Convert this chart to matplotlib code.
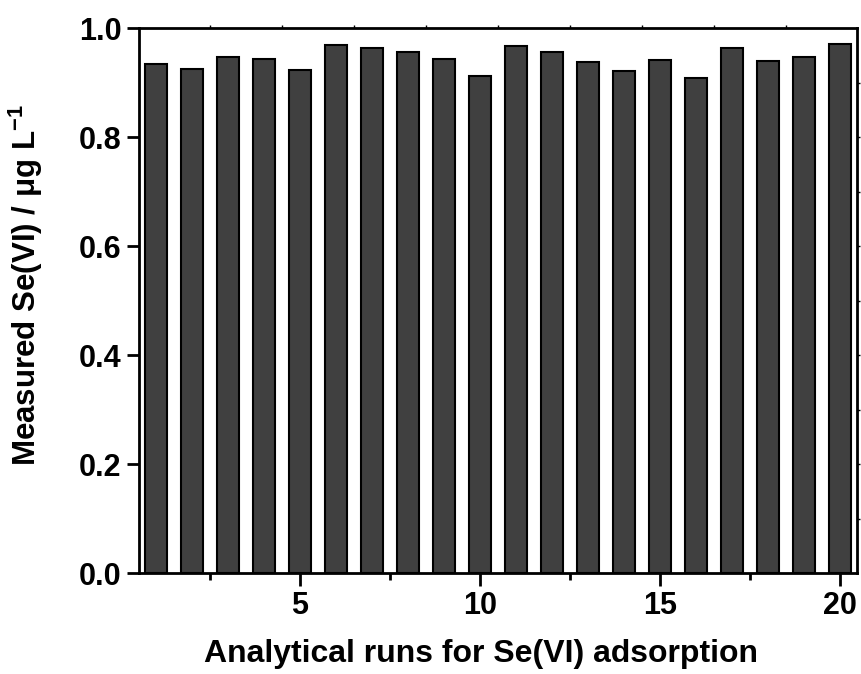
import numpy as np
import matplotlib
matplotlib.use("Agg")
import matplotlib.pyplot as plt
from matplotlib.ticker import MultipleLocator, FixedLocator

# measured Se(VI) for each analytical run
runs = np.arange(1, 21)
measured = [0.934, 0.925, 0.948, 0.944, 0.923, 0.969, 0.963, 0.956, 0.943, 0.913,
            0.967, 0.957, 0.939, 0.922, 0.941, 0.908, 0.964, 0.940, 0.947, 0.972]

plt.rcParams['font.family'] = ['Liberation Sans', 'DejaVu Sans']
plt.rcParams['font.weight'] = 'bold'
plt.rcParams['mathtext.fontset'] = 'custom'
plt.rcParams['mathtext.rm'] = 'Liberation Sans:bold'
plt.rcParams['mathtext.bf'] = 'Liberation Sans:bold'
plt.rcParams['mathtext.default'] = 'bf'

fig = plt.figure(figsize=(8.62, 6.74), dpi=100)
ax = fig.add_axes([0.1613, 0.1494, 0.8329, 0.8086])

ax.bar(runs, measured, width=0.62, color='#404040', edgecolor='black', linewidth=1.5)

ax.set_xlim(0.53, 20.47)
ax.set_ylim(0, 1.0)

ax.xaxis.set_major_locator(FixedLocator([5, 10, 15, 20]))
ax.xaxis.set_minor_locator(FixedLocator([2.5, 7.5, 12.5, 17.5]))
ax.yaxis.set_major_locator(MultipleLocator(0.2))
ax.yaxis.set_major_formatter(plt.FuncFormatter(lambda v, p: f"{v:.1f}"))

for s in ax.spines.values():
    s.set_linewidth(2)

ax.tick_params(axis='both', which='major', direction='out', length=9, width=2,
               labelsize=22, top=False, right=False)
ax.tick_params(axis='x', which='minor', direction='out', length=5, width=2, top=False)
ax.tick_params(axis='y', which='minor', left=False, right=False)

# small marks on top and right spines
top = ax.secondary_xaxis('top')
top.xaxis.set_major_locator(FixedLocator(np.arange(2.5, 20, 2)))
top.tick_params(direction='out', length=2, width=1, labeltop=False)
top.spines['top'].set_visible(False)
right = ax.secondary_yaxis('right')
right.yaxis.set_major_locator(FixedLocator(np.arange(0.1, 1.0, 0.1)))
right.tick_params(direction='out', length=2, width=1, labelright=False)
right.spines['right'].set_visible(False)

for lab in ax.get_xticklabels() + ax.get_yticklabels():
    lab.set_fontweight('bold')

ax.set_xlabel('Analytical runs for Se(VI) adsorption', fontsize=23, fontweight='bold')
ax.xaxis.set_label_coords(0.476, -0.12)
ax.set_ylabel('Measured Se(VI) / μg L$^{-1}$', fontsize=22.5, fontweight='bold')
ax.yaxis.set_label_coords(-0.131, 0.528)

fig.savefig('out.png', dpi=100)
